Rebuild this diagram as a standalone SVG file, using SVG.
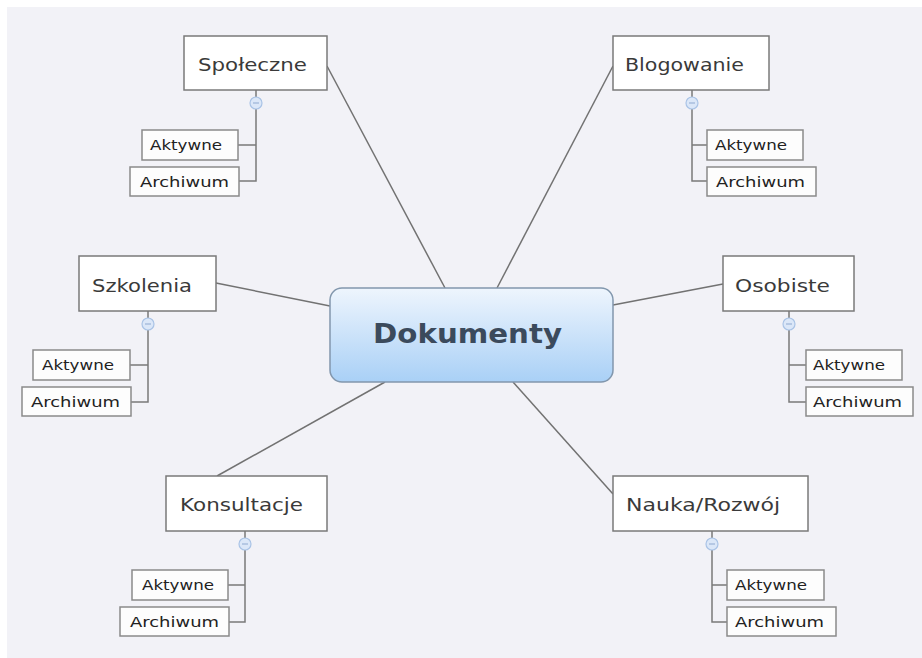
<svg xmlns="http://www.w3.org/2000/svg" width="922" height="658" viewBox="0 0 922 658">
<defs>
<linearGradient id="cg" x1="0" y1="0" x2="0" y2="1">
<stop offset="0" stop-color="#eef5fd"/>
<stop offset="1" stop-color="#a9d0f6"/>
</linearGradient>
<style>
.bg{fill:#f2f2f7}
.main{fill:#ffffff;stroke:#7a7a7a;stroke-width:1.5}
.sub{fill:#fdfdfd;stroke:#8a8a8a;stroke-width:1.5}
.mt{font-family:"DejaVu Sans","Liberation Sans",sans-serif;font-size:18px;fill:#3a3a3a}
.st{font-family:"DejaVu Sans","Liberation Sans",sans-serif;font-size:14px;fill:#222222}
.ct{font-family:"DejaVu Sans","Liberation Sans",sans-serif;font-size:27px;font-weight:bold;fill:#3b4a5c}
.con{stroke:#727272;stroke-width:1.5;fill:none}
.br{stroke:#7a7a7a;stroke-width:1.5;fill:none}
.col{fill:#dbe7f8;stroke:#a9c3e6;stroke-width:1.2}
.colm{stroke:#8fa9d0;stroke-width:1}
</style>
</defs>
<rect width="922" height="658" fill="#ffffff"/>
<rect class="bg" x="7" y="7" width="915" height="651"/>

<g id="connectors">
<line class="con" x1="327" y1="66" x2="445" y2="288"/>
<line class="con" x1="613" y1="66" x2="497" y2="288"/>
<line class="con" x1="216" y1="283" x2="330" y2="306"/>
<line class="con" x1="723" y1="284" x2="613" y2="305"/>
<line class="con" x1="217" y1="476" x2="385" y2="382"/>
<line class="con" x1="613" y1="494" x2="513" y2="382"/>
</g>

<g id="branches">
<path class="br" d="M256 90V97M256 109V181H239M256 145H238"/>
<path class="br" d="M692 90V97M692 109V181H707M692 145H707"/>
<path class="br" d="M148 311V318M148 330V402H131M148 365H130"/>
<path class="br" d="M789 311V318M789 330V402H806M789 365H806"/>
<path class="br" d="M245 531V538M245 550V622H229M245 585H228"/>
<path class="br" d="M712 531V538M712 550V622H727M712 585H727"/>
</g>

<g id="center">
<rect x="330" y="288" width="283" height="94" rx="12" fill="url(#cg)" stroke="#8297ad" stroke-width="1.5"/>
<text class="ct" x="373" y="343" textLength="189" lengthAdjust="spacingAndGlyphs">Dokumenty</text>
</g>

<g id="spoleczne">
<rect class="main" x="184" y="36" width="143" height="54"/>
<text class="mt" x="198" y="71" textLength="109" lengthAdjust="spacingAndGlyphs">Społeczne</text>
<circle class="col" cx="256" cy="103" r="6"/><line class="colm" x1="253" y1="103" x2="259" y2="103"/>
</g>
<g id="spoleczne-aktywne"><rect class="sub" x="142" y="130" width="96" height="30"/><text class="st" x="150" y="150" textLength="72" lengthAdjust="spacingAndGlyphs">Aktywne</text></g>
<g id="spoleczne-archiwum"><rect class="sub" x="130" y="167" width="109" height="29"/><text class="st" x="140" y="187" textLength="89" lengthAdjust="spacingAndGlyphs">Archiwum</text></g>

<g id="blogowanie">
<rect class="main" x="613" y="36" width="156" height="54"/>
<text class="mt" x="625" y="71" textLength="119" lengthAdjust="spacingAndGlyphs">Blogowanie</text>
<circle class="col" cx="692" cy="103" r="6"/><line class="colm" x1="689" y1="103" x2="695" y2="103"/>
</g>
<g id="blogowanie-aktywne"><rect class="sub" x="707" y="130" width="96" height="30"/><text class="st" x="715" y="150" textLength="72" lengthAdjust="spacingAndGlyphs">Aktywne</text></g>
<g id="blogowanie-archiwum"><rect class="sub" x="707" y="167" width="109" height="29"/><text class="st" x="716" y="187" textLength="89" lengthAdjust="spacingAndGlyphs">Archiwum</text></g>

<g id="szkolenia">
<rect class="main" x="79" y="256" width="137" height="55"/>
<text class="mt" x="92" y="292" textLength="100" lengthAdjust="spacingAndGlyphs">Szkolenia</text>
<circle class="col" cx="148" cy="324" r="6"/><line class="colm" x1="145" y1="324" x2="151" y2="324"/>
</g>
<g id="szkolenia-aktywne"><rect class="sub" x="33" y="350" width="97" height="30"/><text class="st" x="42" y="370" textLength="72" lengthAdjust="spacingAndGlyphs">Aktywne</text></g>
<g id="szkolenia-archiwum"><rect class="sub" x="22" y="387" width="109" height="29"/><text class="st" x="31" y="407" textLength="89" lengthAdjust="spacingAndGlyphs">Archiwum</text></g>

<g id="osobiste">
<rect class="main" x="723" y="256" width="131" height="55"/>
<text class="mt" x="735" y="292" textLength="95" lengthAdjust="spacingAndGlyphs">Osobiste</text>
<circle class="col" cx="789" cy="324" r="6"/><line class="colm" x1="786" y1="324" x2="792" y2="324"/>
</g>
<g id="osobiste-aktywne"><rect class="sub" x="806" y="350" width="96" height="30"/><text class="st" x="813" y="370" textLength="72" lengthAdjust="spacingAndGlyphs">Aktywne</text></g>
<g id="osobiste-archiwum"><rect class="sub" x="806" y="387" width="107" height="29"/><text class="st" x="813" y="407" textLength="89" lengthAdjust="spacingAndGlyphs">Archiwum</text></g>

<g id="konsultacje">
<rect class="main" x="166" y="476" width="161" height="55"/>
<text class="mt" x="180" y="511" textLength="123" lengthAdjust="spacingAndGlyphs">Konsultacje</text>
<circle class="col" cx="245" cy="544" r="6"/><line class="colm" x1="242" y1="544" x2="248" y2="544"/>
</g>
<g id="konsultacje-aktywne"><rect class="sub" x="132" y="570" width="96" height="30"/><text class="st" x="142" y="590" textLength="72" lengthAdjust="spacingAndGlyphs">Aktywne</text></g>
<g id="konsultacje-archiwum"><rect class="sub" x="120" y="607" width="109" height="29"/><text class="st" x="130" y="627" textLength="89" lengthAdjust="spacingAndGlyphs">Archiwum</text></g>

<g id="nauka">
<rect class="main" x="613" y="476" width="195" height="55"/>
<text class="mt" x="626" y="511" textLength="154" lengthAdjust="spacingAndGlyphs">Nauka/Rozwój</text>
<circle class="col" cx="712" cy="544" r="6"/><line class="colm" x1="709" y1="544" x2="715" y2="544"/>
</g>
<g id="nauka-aktywne"><rect class="sub" x="727" y="570" width="97" height="30"/><text class="st" x="735" y="590" textLength="72" lengthAdjust="spacingAndGlyphs">Aktywne</text></g>
<g id="nauka-archiwum"><rect class="sub" x="727" y="607" width="109" height="29"/><text class="st" x="735" y="627" textLength="89" lengthAdjust="spacingAndGlyphs">Archiwum</text></g>
</svg>
